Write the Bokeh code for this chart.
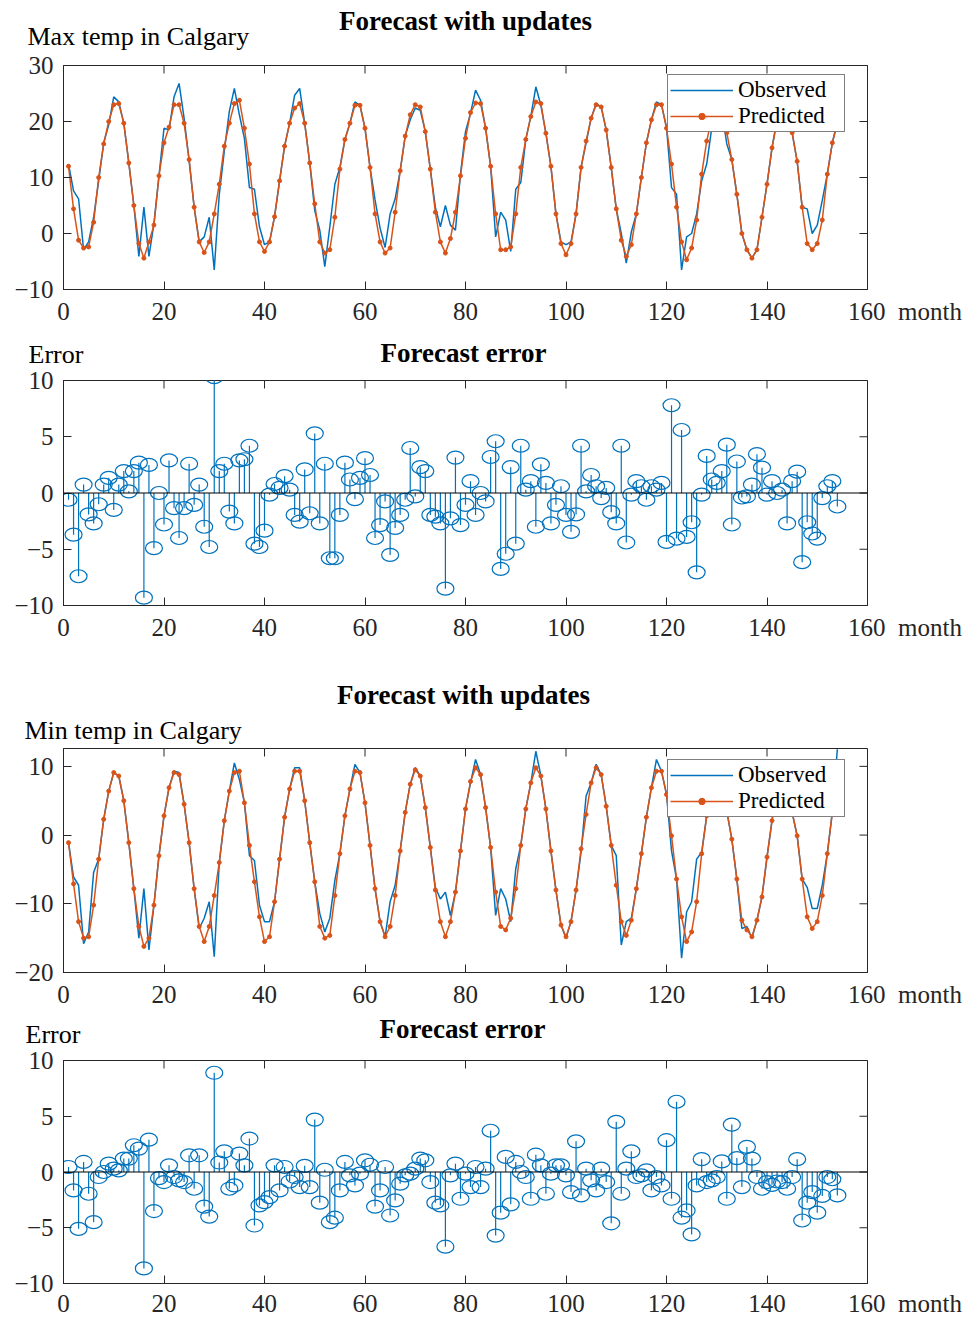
from math import pi
from bokeh.plotting import figure
from bokeh.layouts import column, row
from bokeh.models import Label, Span, FixedTicker, Range1d, Legend, LegendItem
from bokeh.embed import file_html
from bokeh.resources import INLINE

# ---------------- data ----------------
months = list(range(1, 155))

max_observed = [
    12.4, 7.6, 6.2, -2.9, -1.5, 2.9, 9.4, 16.2, 19.4, 24.4,
    23.5, 19.7, 12.6, 5.0, -4.1, 4.7, -4.1, 1.8, 10.3, 18.8,
    18.5, 24.4, 26.8, 20.6, 13.0, 4.7, -1.5, -0.6, 2.9, -6.5,
    7.0, 14.7, 21.8, 25.9, 21.2, 17.0, 8.2, 7.9, 1.2, -2.0,
    -1.5, 3.0, 9.4, 15.6, 19.7, 24.7, 25.9, 19.7, 12.6, 4.1,
    0.6, -5.9, 1.2, 8.8, 11.8, 16.8, 19.7, 23.5, 22.9, 18.8,
    11.8, 6.0, 1.0, -2.5, 3.5, 6.2, 11.2, 17.4, 20.3, 22.4,
    22.0, 18.2, 11.5, 4.7, 1.2, 5.0, 1.5, 0.6, 10.6, 18.2,
    21.5, 25.6, 23.8, 18.8, 12.0, -0.6, 3.8, 2.4, -3.2, 7.9,
    9.1, 16.8, 20.9, 26.2, 22.9, 17.9, 12.0, 3.5, -1.5, -2.0,
    -1.5, 3.5, 11.8, 16.2, 20.6, 23.2, 22.6, 18.5, 11.8, 4.4,
    0.0, -5.3, 0.3, 3.5, 10.0, 16.2, 20.3, 23.5, 23.0, 19.0,
    8.2, 7.0, -6.5, -0.6, 0.0, 3.5, 9.4, 12.4, 18.8, 23.0,
    22.0, 16.0, 13.2, 7.0, 0.0, -2.9, -4.4, -2.9, 2.9, 8.8,
    15.3, 20.5, 23.0, 22.5, 18.0, 12.9, 4.7, 4.4, 0.0, 1.5,
    5.9, 10.6, 16.2, 20.0,
]
max_predicted = [
    12.0, 4.4, -1.2, -2.6, -2.4, 2.0, 10.0, 16.0, 20.0, 23.0,
    23.2, 19.7, 12.6, 5.0, -1.8, -4.4, -1.5, 1.5, 10.3, 16.2,
    19.0, 23.0, 23.0, 19.7, 13.2, 4.7, -1.5, -3.4, -1.5, 3.5,
    8.8, 15.6, 19.7, 23.2, 23.8, 18.8, 12.4, 3.5, -1.5, -3.2,
    -1.5, 3.0, 9.4, 15.6, 19.7, 22.4, 23.2, 19.7, 12.6, 5.3,
    -1.5, -3.5, -2.9, 2.9, 11.5, 16.8, 19.7, 22.9, 22.9, 18.8,
    11.8, 3.5, -1.5, -3.5, -2.6, 3.8, 11.2, 17.4, 21.2, 23.0,
    22.6, 18.2, 11.5, 3.8, -1.5, -3.5, -0.9, 3.8, 10.3, 17.0,
    21.6, 23.3, 23.2, 18.8, 12.0, 3.5, -2.9, -2.9, -2.4, 3.5,
    11.8, 16.8, 20.9, 23.5, 23.2, 17.9, 12.0, 3.5, -1.8, -3.8,
    -1.8, 3.5, 11.8, 16.5, 20.6, 23.0, 22.6, 18.5, 11.8, 4.4,
    -1.2, -4.1, -2.0, 3.5, 10.0, 16.2, 20.3, 23.0, 23.0, 18.8,
    12.4, 4.7, -1.5, -4.7, -2.6, 2.4, 10.6, 16.5, 20.5, 23.0,
    23.0, 18.0, 13.2, 7.0, 0.0, -2.9, -4.4, -2.9, 2.9, 8.8,
    15.3, 20.0, 23.0, 23.0, 18.0, 12.9, 4.7, -1.8, -2.9, -1.8,
    2.4, 10.6, 16.2, 19.5,
]
max_error = [
    -0.6, -3.7, -7.4, 0.75, -1.9, -2.7, -1.0, 0.75, 1.35, -1.5,
    0.75, 1.95, 0.15, 1.95, 2.7, -9.3, 2.5, -4.9, 0.0, -2.8,
    2.9, -1.35, -4.0, -1.35, 2.6, -1.05, 0.75, -3.0, -4.8, 10.3,
    1.95, 2.6, -1.65, -2.7, 2.9, 3.0, 4.2, -4.5, -4.8, -3.35,
    -0.15, 0.8, 0.45, 1.5, 0.3, -1.95, -2.55, 2.1, -1.8, 5.3,
    -2.7, 2.6, -5.8, -5.8, -1.95, 2.7, 1.2, -0.55, 1.35, 3.1,
    1.6, -4.0, -2.85, -0.75, -5.5, -3.1, -1.95, -0.6, 4.0, -0.3,
    2.3, 1.95, -1.95, -2.1, -2.7, -8.5, -2.25, 3.15,
    -2.85, -1.05, 1.05, -1.95, 0.0, -0.75, 3.2, 4.6, -6.75, -5.4,
    2.3, -4.5, 4.2, 0.3, 1.05, -3.0, 2.55, 0.9, -2.7, -1.05,
    0.6, -1.95, -3.45, -1.9, 4.2, 0.15, 1.6, 0.6, -0.45, 0.45,
    -1.7, -2.7, 4.2, -4.4, -0.15, 1.05, 0.6, -0.6, 0.6, 0.3,
    0.9, -4.35, 7.8, -4.05, 5.6, -3.9, -2.6, -7.05, -0.15, 3.3,
    1.2, 0.9, 1.95, 4.3, -2.8, 2.8, -0.4, -0.3, 0.75, 3.45,
    2.25, -0.15, 1.05, 0.0, 0.3, -2.7, 1.05, 1.9, -6.15, -2.6,
    -3.6, -4.05, -0.45, 0.6, 1.05, -1.2,
]
min_observed = [
    -1.1, -6.1, -7.3, -15.8, -14.1, -5.4, -3.5, 2.3, 6.4, 9.1,
    8.6, 5.0, -1.1, -7.8, -15.0, -7.8, -16.7, -10.2, -3.0, 2.8,
    6.9, 9.3, 9.1, 4.5, -1.1, -7.8, -13.6, -12.1, -9.7, -17.7,
    -4.0, 2.1, 6.4, 10.5, 8.1, 4.7, -3.0, -3.7, -10.2, -12.6,
    -12.6, -9.7, -3.5, 2.6, 6.7, 9.8, 9.8, 5.0, -1.1, -6.8,
    -11.4, -14.1, -12.1, -6.6, -2.7, 2.8, 6.7, 10.3, 9.1, 4.7,
    -1.5, -7.8, -12.6, -14.8, -9.7, -7.3, -2.3, 3.3, 7.4, 9.8,
    8.6, 4.0, -1.8, -7.6, -9.3, -8.3, -11.7, -8.3, -2.3, 3.8,
    7.6, 11.0, 8.8, 4.0, -1.8, -11.7, -7.8, -9.3, -12.6, -4.9,
    -1.5, 3.8, 7.6, 12.2, 8.6, 3.8, -2.3, -8.0, -13.1, -15.0,
    -12.6, -8.0, -2.5, 5.7, 7.6, 10.3, 8.8, 4.2, -1.5, -3.0,
    -16.0, -12.6, -12.1, -7.8, -2.7, 2.6, 6.9, 11.0, 9.3, 6.0,
    -2.3, -6.4, -17.9, -11.2, -9.7, -3.5, -2.5, 2.8, 8.0, 10.5,
    9.0, 3.5, -0.6, -6.4, -13.6, -13.3, -15.0, -12.4, -9.0, -3.2,
    2.1, 7.0, 10.0, 9.0, 3.3, -0.1, -6.4, -7.6, -10.7, -10.7,
    -7.3, -2.7, 3.3, 12.5,
]
min_predicted = [
    -1.1, -7.1, -12.6, -15.0, -14.8, -10.2, -3.5, 2.3, 6.4, 9.1,
    8.6, 5.0, -1.1, -7.8, -13.3, -16.2, -15.0, -10.2, -3.0, 2.8,
    6.9, 9.1, 8.8, 4.5, -1.1, -7.8, -13.3, -15.5, -13.3, -8.8,
    -4.0, 2.1, 6.4, 9.1, 9.3, 4.7, -1.5, -6.8, -11.9, -15.5,
    -14.8, -9.7, -3.5, 2.6, 6.7, 9.3, 9.3, 5.0, -1.1, -6.8,
    -13.3, -15.0, -14.6, -8.8, -2.7, 2.8, 6.7, 9.3, 9.1, 4.7,
    -1.5, -7.8, -12.6, -14.8, -13.3, -8.8, -2.3, 3.3, 7.4, 9.5,
    8.6, 4.0, -1.8, -8.0, -12.6, -14.8, -12.6, -8.3, -2.3, 3.8,
    7.8, 9.8, 8.8, 4.0, -1.8, -8.3, -13.3, -13.8, -12.1, -7.8,
    -1.5, 3.8, 7.6, 9.8, 8.6, 3.8, -2.3, -8.0, -13.1, -14.8,
    -12.6, -8.0, -2.0, 3.0, 7.6, 9.8, 8.8, 4.2, -1.5, -7.3,
    -12.6, -14.6, -12.4, -7.8, -2.7, 2.6, 6.9, 9.3, 9.3, 5.9,
    -0.1, -6.4, -11.9, -15.5, -14.1, -9.7, -2.7, 2.8, 7.5, 9.5,
    9.0, 3.5, -0.6, -6.4, -12.4, -13.8, -14.8, -12.4, -9.0, -3.2,
    2.1, 7.0, 9.5, 9.0, 3.3, -0.1, -6.4, -11.9, -13.6, -12.6,
    -8.8, -2.7, 3.3, 8.0,
]
min_error = [
    0.45, -1.65, -5.1, 0.9, -1.95, -4.5, -0.45, 0.0, 0.75, 0.3,
    0.15, 1.2, 1.2, 2.4, 2.1, -8.65, 2.9, -3.5, -0.55, -0.9,
    0.6, -0.45, -0.75, -0.9, 1.5, -1.5, 1.5, -3.1, -4.0, 8.9,
    0.85, 1.85, -1.5, -1.2, 1.65, 0.6, 3.0, -4.8, -3.0, -2.7,
    -2.25, 0.6, -1.65, 0.45, -0.85, -0.45, -1.35, 0.55, -1.35, 4.7,
    -2.75, 0.2, -4.5, -4.1, -1.65, 0.9, -0.3, -1.2, -0.15, 1.05,
    0.65, -3.1, -1.65, 0.45, -3.9, -2.55, -1.05, -0.3, -0.15, 0.3,
    1.2, 1.05, -0.9, -2.75, -3.0, -6.7, -0.3, 0.75,
    -2.4, -0.15, -1.35, 0.45, -1.35, 0.3, 3.7, -5.7, -3.65, 1.35,
    -2.9, 0.9, 0.0, -0.45, -2.4, 1.55, 0.6, -1.95, -0.15, 0.6,
    0.6, -0.3, -1.8, 2.75, -2.1, 0.3, -0.75, -1.65, 0.3, -0.9,
    -4.6, 4.5, -1.95, 0.3, 1.85, -0.45, -0.3, 0.15, -1.65, -0.45,
    -1.2, 2.85, -2.4, 6.3, -4.1, -3.45, -5.6, -1.2, 1.15, -0.9,
    -0.75, -0.45, 0.95, -2.4, 4.25, 1.25, -1.35, 2.25, 1.2, -0.45,
    -1.5, -0.9, -1.15, -0.85, -0.9, -1.5, -0.45, 1.15, -4.35, -2.75,
    -1.8, -3.65, -2.15, -0.45, -0.65, -2.1,
]

x_ticks = [0, 20, 40, 60, 80, 100, 120, 140, 160]
max_ticks = [-10, 0, 10, 20, 30]
err_ticks = [-10, -5, 0, 5, 10]
min_ticks = [-20, -10, 0, 10]
x_unit = "month"

# ---------------- style ----------------
FONT = "Liberation Serif"
BLUE = "#0072BD"
ORANGE = "#D95319"
AX = "#262626"
TICK_FS = "25px"
TITLE_FS = "27px"
LABEL_FS = "26px"
NB = "\u00a0"


def tick_text(t):
    return ("\u2212" + str(abs(t))) if t < 0 else str(t)


def style_axis(ax, ticks, standoff):
    ax.ticker = FixedTicker(ticks=ticks)
    ax.major_tick_in = 8
    ax.major_tick_out = 0
    ax.minor_tick_line_color = None
    ax.axis_line_color = AX
    ax.major_tick_line_color = AX
    ax.major_label_text_font = FONT
    ax.major_label_text_font_size = TICK_FS
    ax.major_label_text_color = AX
    ax.major_label_standoff = standoff


def make_fig(y_lo, y_hi, yticks, top, frame_h, bottom, x_standoff=8):
    p = figure(frame_width=804, frame_height=frame_h,
               x_range=Range1d(0, 160), y_range=Range1d(y_lo, y_hi),
               output_backend="svg", toolbar_location=None,
               min_border_left=63, min_border_right=98,
               min_border_top=top, min_border_bottom=bottom,
               background_fill_color="white", border_fill_color="white")
    p.grid.visible = False
    p.outline_line_color = AX
    p.outline_line_width = 1
    style_axis(p.xaxis[0], x_ticks, x_standoff)
    style_axis(p.yaxis[0], yticks, 10)
    p.yaxis[0].major_label_overrides = {t: tick_text(t) for t in yticks if t < 0}
    last = x_ticks[-1]
    p.xaxis[0].major_label_overrides = {last: NB * 12 + str(last) + NB * 2 + x_unit}
    # inward ticks on the top and right edges of the box (half of each dash is clipped)
    p.scatter(x=x_ticks, y=[y_hi] * len(x_ticks), marker="dash", angle=pi / 2,
              size=16, line_color=AX, line_width=1)
    p.scatter(x=[x_ticks[-1]] * len(yticks), y=yticks, marker="dash",
              size=16, line_color=AX, line_width=1)
    return p


def header(h, texts):
    hp = figure(width=965, height=h, x_range=Range1d(0, 1), y_range=Range1d(0, 1),
                x_axis_location=None, y_axis_location=None, min_border=0,
                output_backend="svg", toolbar_location=None,
                background_fill_color="white", border_fill_color="white")
    hp.outline_line_color = None
    hp.grid.visible = False
    for text, x, y, size, align, bold in texts:
        hp.add_layout(Label(x=x, y=y, x_units="screen", y_units="screen", text=text,
                            text_align=align, text_baseline="middle", text_font=FONT,
                            text_font_size=size, text_color="black",
                            text_font_style="bold" if bold else "normal"))
    return row(hp)


def line_panel(p, obs, pred, legend_y):
    r_obs = p.line(months, obs, line_color=BLUE, line_width=1.5)
    r_pl = p.line(months, pred, line_color=ORANGE, line_width=1.5)
    r_ps = p.scatter(months, pred, size=4, color=ORANGE)
    legend = Legend(items=[LegendItem(label="Observed", renderers=[r_obs]),
                           LegendItem(label="Predicted", renderers=[r_pl, r_ps])],
                    location=(604, legend_y))
    legend.label_text_font = FONT
    legend.label_text_font_size = "23px"
    legend.label_text_line_height = 0.9
    legend.label_text_color = "black"
    legend.glyph_width = 63
    legend.glyph_height = 16
    legend.label_height = 16
    legend.label_width = 104
    legend.label_standoff = 5
    legend.padding = 2
    legend.spacing = 0
    legend.margin = 0
    legend.border_line_color = "black"
    legend.border_line_width = 1
    legend.background_fill_alpha = 1.0
    p.add_layout(legend)


def stem_panel(p, err):
    p.segment(x0=months, y0=0, x1=months, y1=err, line_color=BLUE, line_width=1.2)
    p.ellipse(x=months, y=err, width=17, height=13, width_units="screen",
              height_units="screen", fill_color=None, line_color=BLUE, line_width=1.2)
    p.add_layout(Span(location=0, dimension="width", line_color="black", line_width=1.2))


# Header 1 + panel 1 (max temp)
h1 = header(50, [("Forecast with updates", 465, 30, TITLE_FS, "center", True),
                 ("Max temp in Calgary", 27, 14, LABEL_FS, "left", False)])
p1 = make_fig(-10, 30, max_ticks, 15, 224, 44)
line_panel(p1, max_observed, max_predicted, 157)

# Header 2 + panel 2 (max error)
h2 = header(35, [("Forecast error", 463, 16, TITLE_FS, "center", True),
                 ("Error", 28, 14, LABEL_FS, "left", False)])
p2 = make_fig(-10, 10, err_ticks, 12, 225, 72)
stem_panel(p2, max_error)

# Header 3 + panel 3 (min temp)
h3 = header(68, [("Forecast with updates", 463, 51, TITLE_FS, "center", True),
                 ("Min temp in Calgary", 24, 15, LABEL_FS, "left", False)])
p3 = make_fig(-20, 12.6, min_ticks, 3, 224, 38)
line_panel(p3, min_observed, min_predicted, 155)

# Header 4 + panel 4 (min error)
h4 = header(38, [("Forecast error", 462, 20, TITLE_FS, "center", True),
                 ("Error", 25, 14, LABEL_FS, "left", False)])
p4 = make_fig(-10, 10, err_ticks, 12, 223, 36, x_standoff=6)
stem_panel(p4, min_error)

layout = column(h1, p1, h2, p2, h3, p3, h4, p4, spacing=0)

with open("out.html", "w") as f:
    f.write(file_html(layout, INLINE))
